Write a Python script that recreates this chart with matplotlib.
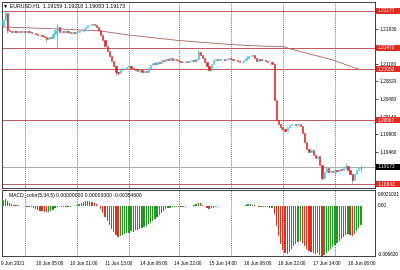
import numpy as np
import matplotlib
matplotlib.use("Agg")
import matplotlib.pyplot as plt
from matplotlib.patches import Rectangle
from matplotlib.transforms import blended_transform_factory

plt.rcParams["font.family"] = ["Liberation Sans", "DejaVu Sans"]

symbol_title = "EURUSD,H1  1.19159 1.19218 1.19083 1.19173"
macd_title = "MACD_color(5,34,5) 0.00000000 0.00000000 -0.00354606"

# H1 candles (open of each bar = previous close)
first_open = 1.21907
closes = [
    1.22003, 1.22138, 1.21811, 1.21791, 1.21772, 1.21791, 1.21772, 1.21791, 1.21772, 1.21791,
    1.21772, 1.21791, 1.21772, 1.21753, 1.21753, 1.21734, 1.21714, 1.21714, 1.21695, 1.21676,
    1.21637, 1.21676, 1.21657, 1.21734, 1.21811, 1.21869, 1.21772, 1.21791, 1.21772, 1.21791,
    1.21772, 1.21753, 1.21772, 1.21753, 1.21772, 1.21791, 1.21791, 1.21830, 1.21869, 1.21907,
    1.21907, 1.21926, 1.21907, 1.21869, 1.21811, 1.21714, 1.21618, 1.21502, 1.21406, 1.21310,
    1.21213, 1.21117, 1.21001, 1.20982, 1.21040, 1.21078, 1.21078, 1.21098, 1.21117, 1.21078,
    1.21059, 1.21040, 1.21021, 1.21040, 1.21001, 1.21021, 1.21001, 1.21078, 1.21136, 1.21175,
    1.21156, 1.21194, 1.21175, 1.21233, 1.21213, 1.21252, 1.21233, 1.21271, 1.21233, 1.21252,
    1.21233, 1.21213, 1.21194, 1.21194, 1.21213, 1.21194, 1.21213, 1.21233, 1.21213, 1.21252,
    1.21387, 1.21329, 1.21271, 1.21194, 1.21117, 1.21040, 1.21156, 1.21233, 1.21252, 1.21233,
    1.21252, 1.21252, 1.21233, 1.21252, 1.21271, 1.21252, 1.21233, 1.21233, 1.21213, 1.21194,
    1.21194, 1.21233, 1.21271, 1.21310, 1.21310, 1.21329, 1.21271, 1.21213, 1.21252, 1.21233,
    1.21233, 1.21213, 1.21194, 1.21194, 1.21156, 1.20462, 1.20076, 1.19999, 1.19941, 1.19903,
    1.19864, 1.19941, 1.19980, 1.19999, 1.19999, 1.19980, 1.19999, 1.19961, 1.19826, 1.19652,
    1.19518, 1.19460, 1.19498, 1.19402, 1.19344, 1.19383, 1.19209, 1.18959, 1.19074, 1.19151,
    1.19074, 1.19094, 1.19074, 1.19113, 1.19094, 1.19132, 1.19113, 1.19171, 1.19190, 1.19113,
    1.19036, 1.18920, 1.19036, 1.19113, 1.19151, 1.19173,
]

# bars with a visible shadow
wick_bars = [1, 2, 20, 25, 52, 53, 90, 95, 115, 128, 147, 158, 161, 165]
wick_high = [1.22158, 1.22138, 1.21637, 1.21926, 1.21001, 1.21001, 1.21425, 1.21098,
             1.21348, 1.19941, 1.19209, 1.19248, 1.19036, 1.19218]
wick_low = [1.22003, 1.21753, 1.21580, 1.21464, 1.20944, 1.20944, 1.21252, 1.21021,
            1.21310, 1.19884, 1.18920, 1.19132, 1.18862, 1.19083]

# moving average line
ma_bars = [0, 26, 45, 58, 81, 105, 118, 129, 137, 152, 164]
ma_values = [1.21869, 1.21830, 1.21791, 1.21714, 1.21608, 1.21531, 1.21502, 1.21489,
             1.21396, 1.21233, 1.21053]

level_prices = [1.22177, 1.21470, 1.21052, 1.20067, 1.18843]
level_labels = ["1.22177", "1.21470", "1.21052", "1.20067", "1.18843"]
current_price = 1.19173
current_label = "1.19173"
price_ticks = [1.21830, 1.21160, 1.20820, 1.20480, 1.20140, 1.19800, 1.19460]
price_min, price_max = 1.18766, 1.22350

# MACD histogram in units of 0.0001
macd = [
    7.9, 9.3, 6.6, 4.0, 2.6, 1.3,
    1.3, 0.7, 0.0, -0.7, -0.7, -1.3, -1.3,
    -1.3, -2.6, -4.0, -5.3, -6.6, -7.3, -7.9, -8.6, -7.9, -6.6, -5.3, -3.3, -1.3,
    -0.7, -1.3, -2.0, -2.0, -1.3, -1.3,
    -0.7, 0.0, 1.3, 2.6, 4.0, 5.3, 6.6, 6.6, 6.6, 5.3, 4.0, 2.6,
    0.0, -4.0, -9.3, -14.6, -19.9, -25.2, -30.5, -34.4, -38.4, -41.0,
    -39.7, -38.4, -37.1, -36.4, -35.7, -33.8, -34.4, -32.4, -31.8, -30.5, -29.1, -27.8,
    -26.5, -24.5, -22.5, -19.9, -17.2, -14.6, -11.9, -9.3, -6.6, -4.6, -3.3,
    -2.6, -2.0, -1.3, -1.3, -2.0, -2.0, -1.3, -1.3, -0.7, -0.7, -0.7,
    1.3, 2.6, 4.0, 3.3, 1.3, -0.7, -2.6, -4.0, -3.3, -2.6, -2.0, -1.3, -0.7, -0.4, 0.0,
    -0.4, -0.7, -0.4, 0.0, 0.4, 0.4, 0.0, -0.4, 0.0,
    1.3, 2.0, 2.0, 1.3, 0.7, -0.7, -1.3, -1.3, -1.3, -2.0, -2.0, -2.6, -2.6,
    -10.6, -26.5, -39.7, -50.3, -58.3, -62.2, -63.6, -60.9, -56.9, -53.0, -50.3, -47.7,
    -46.3, -49.0, -53.0, -56.9, -59.6, -60.9, -62.2, -63.6, -62.2, -64.9, -66.2, -64.9,
    -62.2, -59.6, -56.9, -54.3, -51.6, -49.0, -46.3, -43.7, -41.0, -38.4, -37.1, -38.4,
    -39.7, -37.1, -33.1, -29.1, -25.2,
]
macd_top = 0.0021031
macd_bottom = -0.00662
macd_labels = ["0.0021031", "0.00", "-0.006620"]

time_labels = ["9 Jun 2021", "10 Jun 05:00", "10 Jun 21:00", "11 Jun 13:00", "14 Jun 06:00",
               "14 Jun 22:00", "15 Jun 14:00", "16 Jun 06:00", "16 Jun 22:00", "17 Jun 14:00",
               "18 Jun 06:00"]
time_label_bars = [0, 16, 32, 48, 64, 80, 96, 112, 128, 144, 160]
day_grid_bars = [10, 34, 58, 81, 105, 129, 153]

UP = "#3cc6e0"
DOWN = "#d8201c"
LEVEL = "#c05858"
FS = 3.4

W, H = 400, 270
fig = plt.figure(figsize=(W / 100, H / 100), dpi=100)
fig.patch.set_facecolor("white")
ax = fig.add_axes([2 / W, 1 - 188 / H, 373 / W, 186 / H])
axm = fig.add_axes([2 / W, 1 - 256 / H, 373 / W, 66 / H])

for a in (ax, axm):
    a.set_xlim(-0.5, 171.5)
    a.set_xticks([])
    for s in a.spines.values():
        s.set_linewidth(0.6)
        s.set_color("#202020")
    for b in day_grid_bars:
        a.axvline(b, color="#404040", lw=0.5, dashes=(1.5, 1.5), zorder=1)

# candles
closes_arr = np.array(closes)
opens_arr = np.concatenate([[first_open], closes_arr[:-1]])
x = np.arange(len(closes))
cols = [UP if c >= o else DOWN for o, c in zip(opens_arr, closes_arr)]
ax.vlines(wick_bars, wick_low, wick_high, color="#808080", lw=0.5, zorder=3)
ax.bar(x, closes_arr - opens_arr, bottom=opens_arr, width=0.6, color=cols,
       edgecolor=cols, linewidth=0.4, zorder=4)

ax.plot(ma_bars, ma_values, color="#b25a5a", lw=0.6, zorder=2)

trans = blended_transform_factory(fig.transFigure, ax.transData)
box_h = 6 * (price_max - price_min) / 186
for p, lab in zip(level_prices, level_labels):
    ax.axhline(p, color=LEVEL, lw=0.7, zorder=2)
    ax.add_patch(Rectangle((376 / W, p - box_h / 2), 24 / W, box_h, transform=trans,
                           facecolor="#e02a22", edgecolor="none", clip_on=False, zorder=6))
    ax.text(378 / W, p, lab, transform=trans, color="white", fontsize=FS,
            va="center", ha="left", clip_on=False, zorder=7)
ax.axhline(current_price, color="#a8a8a8", lw=0.7, zorder=2)
ax.add_patch(Rectangle((376 / W, current_price - box_h / 2), 24 / W, box_h, transform=trans,
                       facecolor="black", edgecolor="none", clip_on=False, zorder=6))
ax.text(378 / W, current_price, current_label, transform=trans, color="white",
        fontsize=FS, va="center", ha="left", clip_on=False, zorder=7)

ax.set_ylim(price_min, price_max)
ax.yaxis.tick_right()
ax.set_yticks(price_ticks)
ax.set_yticklabels([f"{t:.5f}" for t in price_ticks])
ax.tick_params(axis="y", length=2, width=0.5, pad=1.5, labelsize=FS)

fig.text(3 / W, 1 - 6 / H, "\u25bc " + symbol_title, fontsize=3.8, va="center", ha="left")

# MACD pane
macd_arr = np.array(macd) * 1e-4
mcols = ["#1f9a1f"] + ["#e0301e" if macd_arr[i] < macd_arr[i - 1] else "#1f9a1f"
                       for i in range(1, len(macd_arr))]
axm.bar(np.arange(len(macd_arr)), macd_arr, width=0.6, color=mcols, zorder=3)
axm.set_ylim(macd_bottom, macd_top)
axm.set_yticks([])
fig.text(9 / W, 1 - 196 / H, macd_title, fontsize=3.6, va="center", ha="left")
for lab, yy in zip(macd_labels, [195, 205.5, 254.5]):
    fig.text(378 / W, 1 - yy / H, lab, fontsize=FS, va="center", ha="left")

for b, lab in zip(time_label_bars, time_labels):
    axm.text(b - 1.0, -0.12, lab, transform=axm.get_xaxis_transform(), fontsize=FS,
             va="center", ha="left")

fig.savefig("out.png", dpi=100)
